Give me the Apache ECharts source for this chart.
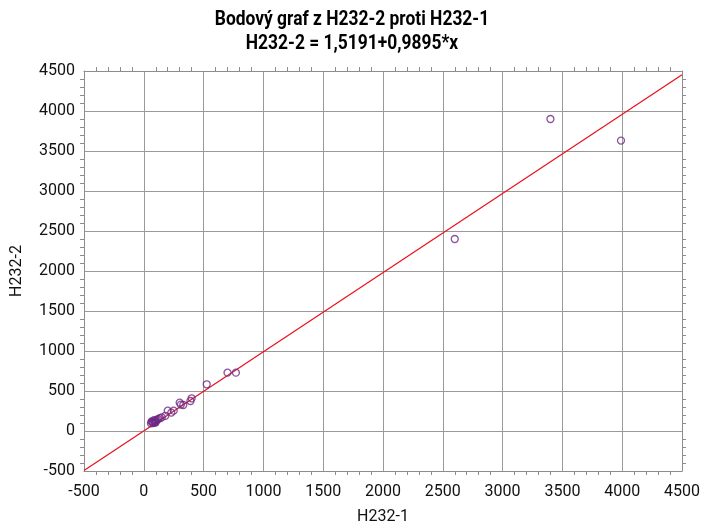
<!DOCTYPE html>
<html><head><meta charset="utf-8">
<script src="https://cdn.jsdelivr.net/npm/echarts@6/dist/echarts.min.js"></script>
<style>html,body{margin:0;padding:0;background:#fff}#c{width:702px;height:526px}</style>
</head><body><div id="c"></div>
<script>
const titleLines = ['Bodový graf z H232-2 proti H232-1', 'H232-2 = 1,5191+0,9895*x'];
const xName = 'H232-1';
const yName = 'H232-2';
const xValues = [3400, 3990, 2600, 526, 700, 770, 400, 390, 330, 300, 310, 250, 200, 230, 180, 135, 120, 100, 90, 80, 70, 60, 110, 150, 95, 75, 65, 85, 100];
const yValues = [3900, 3630, 2400, 584, 729, 729, 409, 375, 325, 354, 330, 254, 254, 230, 190, 160, 150, 130, 120, 100, 110, 95, 140, 170, 105, 115, 120, 135, 110];
const fitX = [-500, 4500];
const fitY = [-493.2, 4454.3];
const axisMin = -500, axisMax = 4500, axisStep = 500;

const points = xValues.map((x, i) => [x, yValues[i]]);
const fitLine = fitX.map((x, i) => [x, fitY[i]]);

const font = 'Roboto, "Liberation Sans", sans-serif';
const gray = '#8c8c8c';
function mkAxis(pos, main, margin, extra) {
  return Object.assign({
    type: 'value', position: pos, min: axisMin, max: axisMax, interval: axisStep,
    axisLine: { show: true, onZero: false, lineStyle: { color: gray, width: 1 } },
    axisTick: { show: false },
    minorTick: { show: true, splitNumber: 5, length: 4, lineStyle: { color: gray } },
    axisLabel: main ? { show: true, color: '#111', fontSize: 16, fontFamily: font, margin: margin, formatter: v => String(v) } : { show: false },
    splitLine: main ? { show: true, lineStyle: { color: '#9a9a9a', width: 1 } } : { show: false },
    minorSplitLine: { show: false }
  }, extra || {});
}
const titleStyle = (txt) => ({ text: txt, font: 'bold 20px Roboto, sans-serif', fill: '#000', textAlign: 'center', textVerticalAlign: 'middle' });
const chart = echarts.init(document.getElementById('c'), null, { renderer: 'canvas' });
chart.setOption({
  backgroundColor: '#fff',
  animation: false,
  graphic: [
    { type: 'text', x: 352, y: 20, scaleX: 0.87, style: titleStyle(titleLines[0]) },
    { type: 'text', x: 352, y: 44, scaleX: 0.87, style: titleStyle(titleLines[1]) }
  ],
  grid: { left: 84, right: 20, top: 71, bottom: 55, containLabel: false, outerBoundsMode: 'none' },
  xAxis: [
    mkAxis('bottom', true, 13, { name: xName, nameLocation: 'middle', nameGap: 38, nameTextStyle: { fontSize: 16, fontFamily: font, color: '#111' } }),
    mkAxis('top', false, 8)
  ],
  yAxis: [
    mkAxis('left', true, 9, { name: yName, nameLocation: 'middle', nameGap: 59, nameTextStyle: { fontSize: 16, fontFamily: font, color: '#111' } }),
    mkAxis('right', false, 8)
  ],
  series: [
    { type: 'line', data: fitLine, showSymbol: false, symbol: 'none', lineStyle: { color: '#e8101a', width: 1.2 }, z: 3, silent: true },
    { type: 'scatter', data: points, symbol: 'circle', symbolSize: 7,
      itemStyle: { color: 'rgba(255,255,255,0)', borderColor: '#6e2885', borderWidth: 1.3 }, z: 4 }
  ]
});
</script>
</body></html>
